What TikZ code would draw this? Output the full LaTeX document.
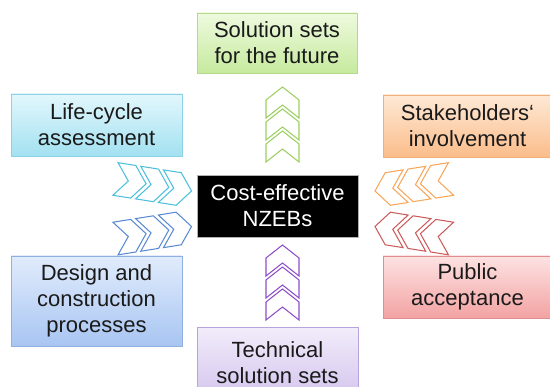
\documentclass[tikz,border=0pt]{standalone}
\usepackage{fontspec}
\setmainfont{Liberation Sans}
\usetikzlibrary{shadows}
\definecolor{gT}{HTML}{EEFADF}\definecolor{gB}{HTML}{C6EA9E}\definecolor{gD}{HTML}{B5D98C}
\definecolor{cT}{HTML}{E2F7FC}\definecolor{cB}{HTML}{A3E1F1}\definecolor{cD}{HTML}{8CD2E6}
\definecolor{oT}{HTML}{FEE9D6}\definecolor{oB}{HTML}{FBBD8A}\definecolor{oD}{HTML}{EFB07E}
\definecolor{bT}{HTML}{E1ECFC}\definecolor{bB}{HTML}{A8C5F2}\definecolor{bD}{HTML}{8FB0E0}
\definecolor{rT}{HTML}{FDE2E2}\definecolor{rB}{HTML}{F3A3A3}\definecolor{rD}{HTML}{DE9090}
\definecolor{pT}{HTML}{F2ECFA}\definecolor{pB}{HTML}{D4C5EE}\definecolor{pD}{HTML}{B9A3DC}
\definecolor{gC}{HTML}{9CCF5F}\definecolor{cC}{HTML}{4CC0DB}\definecolor{bC}{HTML}{5A8AD2}
\definecolor{oC}{HTML}{F7A65B}\definecolor{rC}{HTML}{CC5B5B}\definecolor{pC}{HTML}{8D4DC8}
\definecolor{txt}{HTML}{1A1A1A}
\begin{document}
\begin{tikzpicture}[x=1pt,y=-1pt,
  box/.style={rectangle, line width=0.6pt, text=txt, font=\fontsize{22}{26}\selectfont,
    align=center, inner sep=0pt,
    drop shadow={shadow xshift=1pt, shadow yshift=-1.5pt, opacity=0.3}},
  gbox/.style={box, top color=gT, bottom color=gB, draw=gD},
  cbox/.style={box, top color=cT, bottom color=cB, draw=cD},
  obox/.style={box, top color=oT, bottom color=oB, draw=oD},
  bbox/.style={box, top color=bT, bottom color=bB, draw=bD},
  rbox/.style={box, top color=rT, bottom color=rB, draw=rD},
  pbox/.style={box, top color=pT, bottom color=pB, draw=pD},
  kbox/.style={box, fill=black, draw=gray!60, text=white},
  pics/chev/.style={code={\draw[draw=#1, line width=1.05pt, line join=miter]
    (-15.5,-16.5) -- (2.5,-16.5) -- (15.5,0) -- (2.5,16.5) -- (-15.5,16.5) -- (-2.5,0) -- cycle;}}]
\useasboundingbox (0,0) rectangle (550,387);
\clip (0,0) rectangle (550,387);

\node[gbox, minimum width=160pt, minimum height=60pt] (future) at (277,43) {Solution sets\\for the future};
\node[cbox, minimum width=171pt, minimum height=62pt] (lca) at (96.5,125) {Life-cycle\\assessment};
\node[obox, minimum width=169pt, minimum height=62pt] (stake) at (467.5,126) {Stakeholders‘\\involvement};
\node[kbox, minimum width=161pt, minimum height=62pt] (nzeb) at (277.5,206) {Cost-effective\\NZEBs};
\node[bbox, minimum width=171pt, minimum height=90pt] (design) at (96.5,301) {Design and\\construction\\processes};
\node[rbox, minimum width=169pt, minimum height=62pt] (public) at (467.5,287) {Public\\acceptance};
\node[pbox, minimum width=161pt, minimum height=70pt] (tech) at (277.5,362.5) {Technical\\solution sets};

% chevrons
\begin{scope}[shift={(282.5,124.5)}, rotate=90, transform shape]
  \foreach \i in {-22,0,22} \pic[transform shape] at (\i,0) {chev=gC};
\end{scope}
\begin{scope}[shift={(282.5,282.5)}, rotate=90, transform shape]
  \foreach \i in {-22,0,22} \pic[transform shape] at (\i,0) {chev=pC};
\end{scope}
\begin{scope}[shift={(153.5,185)}, rotate=-9, transform shape]
  \foreach \i in {-23,0,23} \pic[transform shape] at (\i,0) {chev=cC};
\end{scope}
\begin{scope}[shift={(153.5,232.5)}, rotate=9, transform shape]
  \foreach \i in {-23,0,23} \pic[transform shape] at (\i,0) {chev=bC};
\end{scope}
\begin{scope}[shift={(413,185)}, rotate=189, transform shape]
  \foreach \i in {-23,0,23} \pic[transform shape] at (\i,0) {chev=oC};
\end{scope}
\begin{scope}[shift={(413,232.5)}, rotate=171, transform shape]
  \foreach \i in {-23,0,23} \pic[transform shape] at (\i,0) {chev=rC};
\end{scope}
\end{tikzpicture}
\end{document}
